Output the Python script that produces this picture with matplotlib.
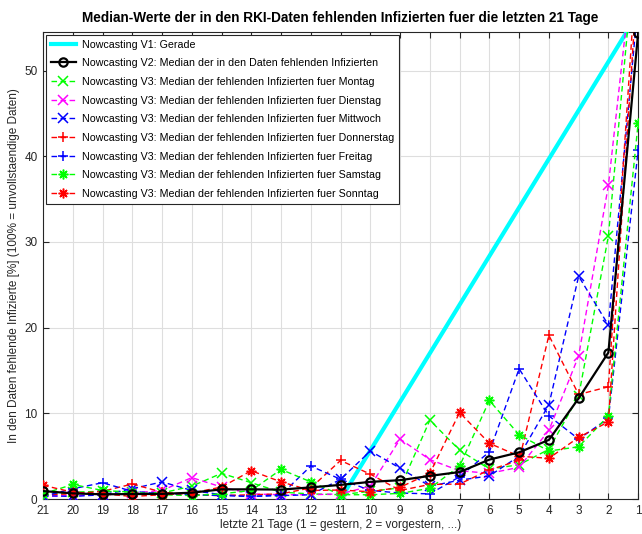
import matplotlib.pyplot as plt
import numpy as np

plt.rcParams['font.family'] = ['Liberation Sans', 'DejaVu Sans']

# Tage rueckwaerts: 21 = vor 21 Tagen, 1 = gestern
days = list(range(21, 0, -1))

# Nowcasting V1: Gerade
gerade_days = [11, 1]
gerade = [0.0, 56.7]

# Nowcasting V2: Median der fehlenden Infizierten
v2 = [0.93, 0.66, 0.55, 0.58, 0.6, 0.74, 1.13, 1.13, 1.1, 1.36, 1.65,
      2.0, 2.2, 2.7, 3.15, 4.6, 5.45, 6.9, 11.75, 17.1, 54.4]

# Nowcasting V3: Median je Wochentag
montag = [0.5, 0.8, 0.9, 0.8, 0.7, 1.5, 3.0, 1.9, 0.8, 0.6, 0.5,
          0.9, 1.3, 9.2, 5.7, 3.5, 4.0, 5.8, 12.0, 30.7, 68.0]
dienstag = [0.3, 0.4, 0.5, 0.7, 1.0, 2.5, 1.4, 0.6, 0.5, 0.5, 0.6,
            1.5, 7.0, 4.6, 3.3, 3.0, 3.7, 8.0, 16.7, 36.6, 68.0]
mittwoch = [0.4, 0.3, 0.5, 1.2, 2.0, 1.0, 0.5, 0.3, 0.4, 0.5, 2.3,
            5.6, 3.6, 1.5, 2.2, 2.7, 5.0, 11.0, 26.0, 20.3, 58.0]
donnerstag = [0.5, 0.6, 0.9, 1.75, 0.8, 0.5, 0.4, 0.5, 0.6, 1.3, 4.5,
              2.9, 1.0, 1.7, 1.75, 3.4, 4.5, 19.1, 12.2, 13.1, 65.0]
freitag = [0.3, 1.2, 1.9, 0.9, 0.6, 0.5, 0.4, 0.3, 0.5, 3.85, 2.3,
           1.0, 0.7, 0.6, 2.6, 5.5, 15.2, 9.7, 7.0, 9.4, 40.7]
samstag = [0.6, 1.7, 1.0, 0.8, 0.5, 0.4, 0.6, 1.0, 3.45, 2.0, 0.5,
           0.5, 0.66, 1.25, 3.85, 11.5, 7.5, 5.6, 6.1, 9.7, 43.9]
sonntag = [1.6, 0.8, 0.6, 0.3, 0.5, 0.7, 1.4, 3.3, 2.0, 1.0, 1.05,
           0.85, 1.37, 3.0, 10.1, 6.5, 5.0, 4.75, 7.2, 9.0, 62.0]

asterisk = (8, 2, 0)
prefix = 'Nowcasting V3: Median der fehlenden Infizierten fuer '
v3 = [
    (montag, 'Montag', (0, 1, 0), 'x'),
    (dienstag, 'Dienstag', (1, 0, 1), 'x'),
    (mittwoch, 'Mittwoch', (0, 0, 1), 'x'),
    (donnerstag, 'Donnerstag', (1, 0, 0), '+'),
    (freitag, 'Freitag', (0, 0, 1), '+'),
    (samstag, 'Samstag', (0, 1, 0), asterisk),
    (sonntag, 'Sonntag', (1, 0, 0), asterisk),
]

fig = plt.figure(figsize=(6.42, 5.34), dpi=100)
ax = fig.add_axes([0.067, 0.0655, 0.927, 0.8745])

ax.plot(gerade_days, gerade, color=(0, 1, 1), lw=3, label='Nowcasting V1: Gerade', zorder=3)
ax.plot(days, v2, color='k', lw=1.6, marker='o', ms=6, mfc='none', mew=1.6,
        label='Nowcasting V2: Median der in den Daten fehlenden Infizierten', zorder=5)
for values, tag, col, mk in v3:
    ax.plot(days, values, color=col, ls=(0, (4, 2.5)), lw=1.0, marker=mk, ms=7, mew=1.1,
            label=prefix + tag, zorder=4)

ax.set_xlim(21, 1)
ax.set_ylim(0, 54.5)
ax.set_xticks(days)
ax.set_yticks([0, 10, 20, 30, 40, 50])
ax.grid(True, color=(0.87, 0.87, 0.87), lw=0.8)
ax.set_axisbelow(True)
ax.tick_params(direction='in', top=True, right=True, length=4, labelsize=8.5,
               colors=(0.15, 0.15, 0.15), pad=4)
for s in ax.spines.values():
    s.set_color((0.15, 0.15, 0.15))
    s.set_linewidth(0.8)

ax.set_title('Median-Werte der in den RKI-Daten fehlenden Infizierten fuer die letzten 21 Tage',
             fontsize=9.8, fontweight='bold', pad=7)
ax.set_xlabel('letzte 21 Tage (1 = gestern, 2 = vorgestern, ...)', fontsize=8.5,
              color=(0.15, 0.15, 0.15), labelpad=2)
ax.set_ylabel('In den Daten fehlende Infizierte [%] (100% = unvollstaendige Daten)', fontsize=8.5,
              color=(0.15, 0.15, 0.15), labelpad=3)

leg = ax.legend(loc='upper left', fontsize=7.7, frameon=True, fancybox=False, framealpha=1,
                edgecolor=(0.15, 0.15, 0.15), handlelength=2.4, handletextpad=0.5,
                labelspacing=0.81, borderaxespad=0.25, borderpad=0.45)
leg.get_frame().set_linewidth(0.8)

fig.savefig('out.png', dpi=100)
